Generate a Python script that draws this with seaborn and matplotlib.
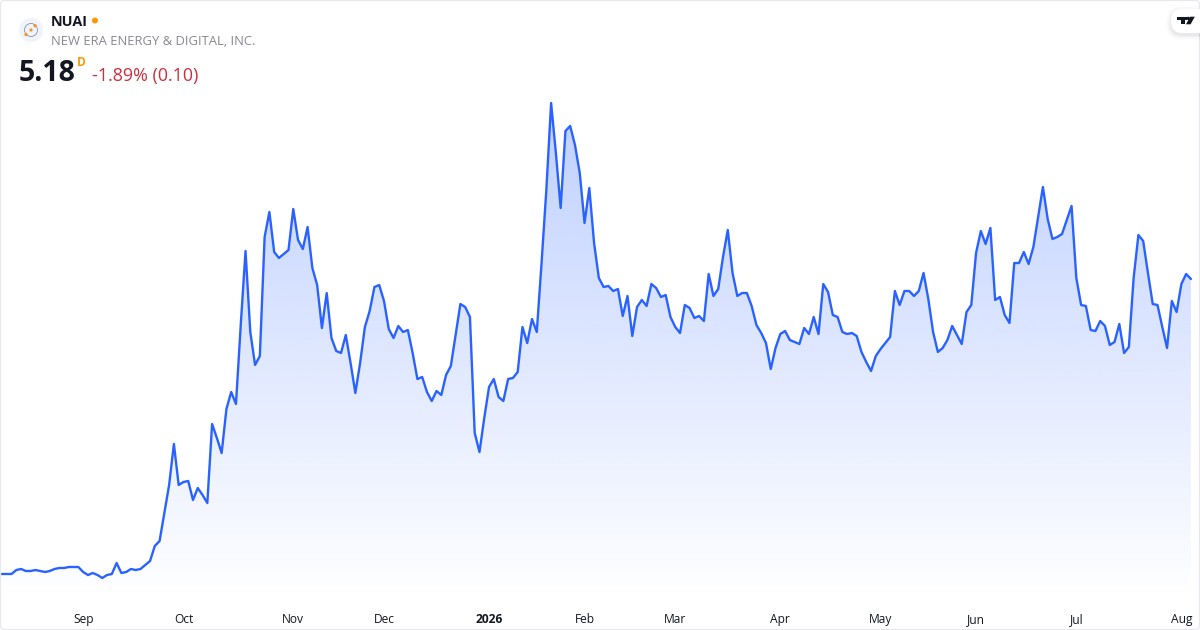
import numpy as np
import pandas as pd
import seaborn as sns
import matplotlib.pyplot as plt
from matplotlib.patches import Circle, FancyBboxPatch, Polygon, Rectangle

# closing prices, one per trading day
prices = [
    2.23, 2.23, 2.23, 2.27, 2.28, 2.26, 2.26, 2.27, 2.26, 2.25,
    2.26, 2.28, 2.29, 2.29, 2.30, 2.30, 2.30, 2.25, 2.22, 2.24,
    2.22, 2.19, 2.22, 2.23, 2.34, 2.24, 2.25, 2.28, 2.27, 2.28,
    2.32, 2.36, 2.51, 2.56, 2.84, 3.12, 3.53, 3.12, 3.15, 3.16,
    2.97, 3.09, 3.02, 2.94, 3.73, 3.59, 3.44, 3.88, 4.05, 3.93,
    4.72, 5.46, 4.65, 4.32, 4.41, 5.60, 5.85, 5.45, 5.39, 5.43,
    5.47, 5.88, 5.57, 5.48, 5.70, 5.29, 5.12, 4.69, 5.04, 4.59,
    4.46, 4.44, 4.62, 4.34, 4.04, 4.34, 4.70, 4.86, 5.10, 5.12,
    4.96, 4.68, 4.59, 4.71, 4.65, 4.67, 4.44, 4.18, 4.20, 4.05,
    3.96, 4.06, 4.02, 4.22, 4.31, 4.62, 4.93, 4.90, 4.80, 3.64,
    3.45, 3.79, 4.10, 4.18, 4.00, 3.96, 4.18, 4.19, 4.25, 4.70,
    4.54, 4.78, 4.65, 5.34, 6.07, 6.94, 6.44, 5.89, 6.66, 6.71,
    6.52, 6.24, 5.74, 6.09, 5.54, 5.19, 5.10, 5.11, 5.06, 5.08,
    4.81, 5.01, 4.61, 4.90, 4.97, 4.91, 5.13, 5.09, 5.00, 5.02,
    4.80, 4.70, 4.64, 4.92, 4.89, 4.79, 4.81, 4.76, 5.23, 5.01,
    5.08, 5.40, 5.67, 5.24, 5.01, 5.04, 5.04, 4.91, 4.72, 4.64,
    4.54, 4.28, 4.49, 4.63, 4.66, 4.57, 4.55, 4.53, 4.69, 4.63,
    4.80, 4.63, 5.13, 5.05, 4.82, 4.80, 4.65, 4.63, 4.64, 4.61,
    4.45, 4.35, 4.26, 4.41, 4.48, 4.54, 4.60, 5.06, 4.92, 5.06,
    5.06, 5.01, 5.06, 5.24, 4.98, 4.65, 4.45, 4.49, 4.57, 4.71,
    4.62, 4.53, 4.85, 4.92, 5.44, 5.66, 5.53, 5.69, 4.97, 5.00,
    4.82, 4.74, 5.34, 5.34, 5.45, 5.33, 5.50, 5.80, 6.10, 5.78,
    5.58, 5.60, 5.63, 5.77, 5.91, 5.19, 4.92, 4.91, 4.67, 4.66,
    4.76, 4.71, 4.52, 4.55, 4.73, 4.44, 4.50, 5.19, 5.62, 5.56,
    5.24, 4.93, 4.92, 4.70, 4.49, 4.96, 4.85, 5.13, 5.23, 5.18,
]
tick_days = [17, 38, 61, 80, 102, 122, 141, 163, 184, 204, 225, 247]
tick_labels = ['Sep', 'Oct', 'Nov', 'Dec', '2026', 'Feb', 'Mar', 'Apr', 'May', 'Jun', 'Jul', 'Aug']

sns.set_theme(style='white')
plt.rcParams['font.family'] = ['Open Sans', 'DejaVu Sans']

LINE = '#2962FF'
df = pd.DataFrame({'day': range(len(prices)), 'price': prices})

fig = plt.figure(figsize=(12, 6.3), dpi=100, facecolor='white')
ax = fig.add_axes([0, 30 / 630, 1, 600 / 630])
ax.set_facecolor('none')

sns.lineplot(data=df, x='day', y='price', ax=ax, color=LINE, linewidth=1.7, errorbar=None, zorder=3)

xlim = (-0.42, 250.9)
ylim = (1.97, 7.97)

# gradient under the line, clipped to the area below it
area = ax.fill_between(df['day'], df['price'], ylim[0], color='none', linewidth=0)
grad = np.zeros((256, 1, 4))
grad[..., 0], grad[..., 1], grad[..., 2] = 41 / 255, 98 / 255, 1.0
grad[..., 3] = np.linspace(0.3, 0, 256).reshape(-1, 1)
im = ax.imshow(grad, extent=[0, len(prices) - 1, ylim[0], df['price'].max()],
               aspect='auto', origin='upper', zorder=1)
im.set_clip_path(area.get_paths()[0], transform=ax.transData)

ax.set_xlim(xlim)
ax.set_ylim(ylim)
ax.set_xlabel('')
ax.set_ylabel('')
ax.set_yticks([])
ax.set_xticks(tick_days)
ax.set_xticklabels(tick_labels, fontsize=8.65, color='#131722')
ax.tick_params(axis='x', length=0, pad=9.2)
ax.get_xticklabels()[4].set_fontweight('bold')
sns.despine(ax=ax, left=True, bottom=True)

# header and frame, placed in pixels
top = fig.add_axes([0, 0, 1, 1], facecolor='none')
top.set_xlim(0, 1200)
top.set_ylim(630, 0)
top.axis('off')

top.add_patch(FancyBboxPatch((0.5, 0.5), 1199, 629, boxstyle='round,pad=0,rounding_size=4',
                             fc='none', ec='#E6E8EE', lw=0.8))

top.add_patch(Circle((31, 30), 12, fc='#F0F3FA', ec='none'))
top.add_patch(Circle((31, 30), 6.5, fc='none', ec='#8A93A8', lw=0.6))
for cx, cy in [(35, 25.7), (26, 34.5), (31, 30)]:
    top.add_patch(Circle((cx, cy), 1.6, fc='#F7931A', ec='none'))

top.text(51, 26, 'NUAI', fontsize=10.4, fontweight='bold', color='#131722', va='baseline')
top.add_patch(Circle((95, 20.5), 3, fc='#FF9800', ec='none'))
top.text(51, 45, 'NEW ERA ENERGY & DIGITAL, INC.', fontsize=9.35, color='#868993', va='baseline')
top.text(19, 81, '5.18', fontsize=20.5, fontweight='bold', color='#131722', va='baseline')
top.text(77, 66, 'D', fontsize=8.6, fontweight='bold', color='#FF9800', va='baseline')
top.text(92, 81, '-1.89% (0.10)', fontsize=12.9, color='#CC2F3C', va='baseline')

# TradingView badge with a soft shadow
for grow, alpha in [(5, 0.012), (3.5, 0.018), (2, 0.025), (1, 0.03)]:
    top.add_patch(FancyBboxPatch((1171 - grow, 9 - grow + 2), 40 + grow, 24 + 2 * grow,
                                 boxstyle='round,pad=0,rounding_size=%s' % (11 + grow),
                                 fc='black', ec='none', alpha=alpha, clip_on=True))
top.add_patch(FancyBboxPatch((1171, 9), 40, 24, boxstyle='round,pad=0,rounding_size=11',
                             fc='white', ec='none', clip_on=True))
top.add_patch(Rectangle((1177, 16.7), 9.5, 3.2, fc='#131722', ec='none'))
top.add_patch(Rectangle((1181, 16.7), 4.2, 7.6, fc='#131722', ec='none'))
top.add_patch(Circle((1188.3, 18.4), 1.7, fc='#131722', ec='none'))
top.add_patch(Polygon([(1190.2, 16.7), (1194.8, 16.7), (1190.6, 24.3), (1186, 24.3)], fc='#131722', ec='none'))

fig.savefig('out.png', dpi=100, facecolor='white')
